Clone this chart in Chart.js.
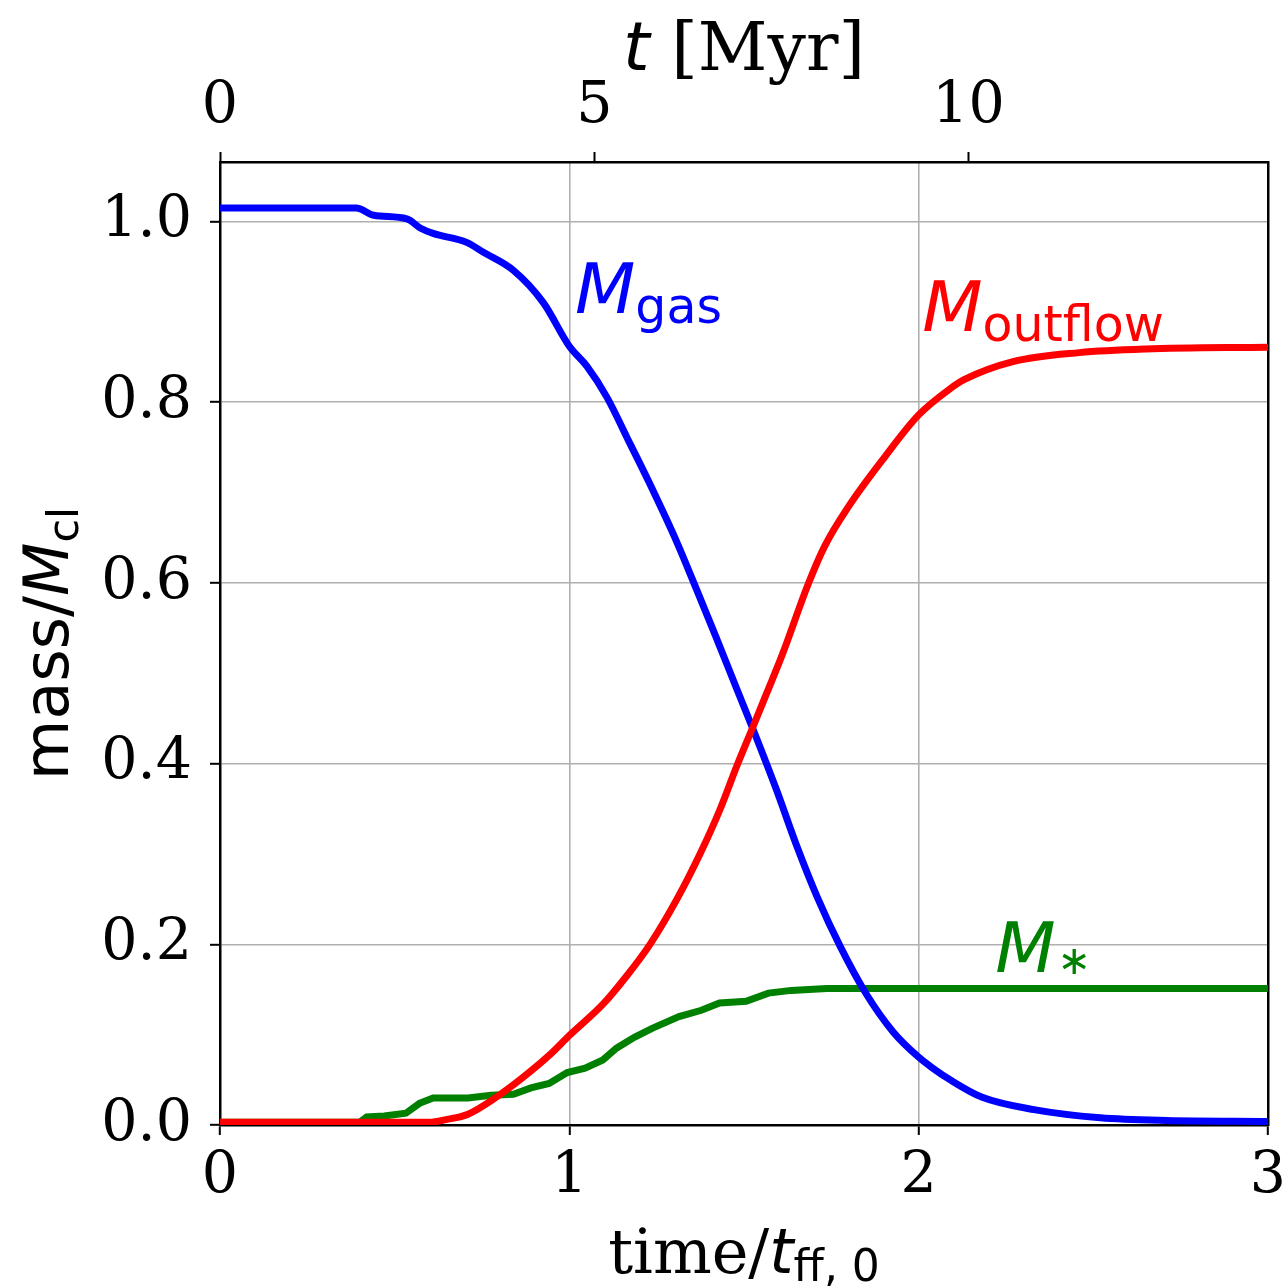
<!DOCTYPE html>
<html>
<head>
<meta charset="utf-8">
<script src="https://cdn.jsdelivr.net/npm/chart.js@4.4.1/dist/chart.umd.min.js"></script>
<style>
  html, body { margin: 0; padding: 0; background: #fff; }
  #wrap { width: 1283px; height: 1286px; }
</style>
</head>
<body>
<div id="wrap"><canvas id="massChart"></canvas></div>
<script>
// time in units of t_ff,0, mass in units of M_cl
const tGas = [0, 0.39, 0.44, 0.535, 0.573, 0.61, 0.706, 0.754, 0.84, 0.926, 1.0, 1.05, 1.107, 1.174, 1.23, 1.308, 1.365, 1.42, 1.48, 1.527, 1.594, 1.65, 1.71, 1.775, 1.85, 1.927, 2.0, 2.04, 2.09, 2.18, 2.33, 2.52, 2.71, 3.0];
const mGas = [1.015, 1.015, 1.007, 1.003, 0.993, 0.987, 0.977, 0.966, 0.946, 0.910, 0.862, 0.840, 0.806, 0.754, 0.710, 0.645, 0.592, 0.540, 0.482, 0.437, 0.370, 0.310, 0.252, 0.198, 0.145, 0.103, 0.075, 0.063, 0.050, 0.031, 0.017, 0.008, 0.005, 0.004];

const tOut = [0, 0.6, 0.647, 0.71, 0.788, 0.865, 0.942, 1.0, 1.097, 1.16, 1.231, 1.308, 1.374, 1.431, 1.48, 1.527, 1.565, 1.61, 1.683, 1.73, 1.80, 1.90, 2.0, 2.09, 2.13, 2.27, 2.46, 2.65, 3.0];
const mOut = [0.003, 0.003, 0.006, 0.012, 0.030, 0.052, 0.077, 0.099, 0.134, 0.163, 0.200, 0.250, 0.300, 0.349, 0.398, 0.442, 0.478, 0.521, 0.598, 0.640, 0.685, 0.738, 0.786, 0.815, 0.825, 0.845, 0.855, 0.859, 0.861];

const tStar = [0, 0.40, 0.42, 0.47, 0.532, 0.571, 0.61, 0.71, 0.776, 0.84, 0.89, 0.942, 0.994, 1.045, 1.096, 1.135, 1.186, 1.237, 1.314, 1.378, 1.43, 1.506, 1.57, 1.635, 1.737, 3.0];
const mStar = [0.003, 0.003, 0.009, 0.010, 0.013, 0.024, 0.030, 0.030, 0.033, 0.034, 0.041, 0.046, 0.058, 0.063, 0.072, 0.085, 0.097, 0.107, 0.120, 0.127, 0.135, 0.137, 0.146, 0.149, 0.151, 0.151];

const xTicks = [0, 1, 2, 3];
const myrTicks = [0, 5, 10];
const yTicks = [0, 0.2, 0.4, 0.6, 0.8, 1.0];
const xMax = 3;
const myrMax = 14.0;
const yMax = 1.066;

function toPoints(xs, ys) {
    return xs.map((x, i) => ({ x: x, y: ys[i] }));
}

function drawParts(ctx, parts, x, y, align) {
    let total = 0;
    parts.forEach(p => {
        ctx.font = p.font;
        p.w = ctx.measureText(p.text).width;
        total += p.w;
    });
    let cx = align === 'center' ? x - total / 2 : x;
    parts.forEach(p => {
        ctx.font = p.font;
        ctx.fillText(p.text, cx + (p.dx || 0), y + (p.dy || 0));
        cx += p.w;
    });
}

const tickFont = { family: 'DejaVu Serif', size: 57 };

function fixedTicks(list) {
    return function(scale) {
        scale.ticks = list.map(v => ({ value: v }));
    };
}

// fixed box sizes so the plot area lands where the original one is
function fixHeight(h) {
    return function(scale) {
        scale.height = h;
        scale.paddingLeft = 0;
        scale.paddingRight = 0;
    };
}

const labelPlugin = {
    id: 'labels',
    afterDraw(chart) {
        const ctx = chart.ctx;
        const area = chart.chartArea;
        const xs = chart.scales.x;
        const ys = chart.scales.y;
        ctx.save();
        ctx.textAlign = 'left';
        ctx.textBaseline = 'alphabetic';
        ctx.fillStyle = '#000';
        const cx = (area.left + area.right) / 2;

        drawParts(ctx, [
            { text: 'time/', font: '62px "DejaVu Serif"' },
            { text: 't', font: 'italic 62px "DejaVu Sans"' },
            { text: 'ff, 0', font: '44px "DejaVu Sans"', dy: 8 }
        ], cx, 1273, 'center');

        drawParts(ctx, [
            { text: 't', font: 'italic 68px "DejaVu Sans"' },
            { text: ' [Myr]', font: '68px "DejaVu Serif"' }
        ], cx, 70, 'center');

        ctx.save();
        ctx.translate(68, (area.top + area.bottom) / 2);
        ctx.rotate(-Math.PI / 2);
        drawParts(ctx, [
            { text: 'mass/', font: '62px "DejaVu Sans"' },
            { text: 'M', font: 'italic 62px "DejaVu Sans"' },
            { text: 'cl', font: '43px "DejaVu Sans"', dy: 10 }
        ], 0, 0, 'center');
        ctx.restore();

        ctx.fillStyle = '#0000ff';
        drawParts(ctx, [
            { text: 'M', font: 'italic 70px "DejaVu Sans"' },
            { text: 'gas', font: '49px "DejaVu Sans"', dy: 10 }
        ], xs.getPixelForValue(1.016), ys.getPixelForValue(0.899), 'left');

        ctx.fillStyle = '#ff0000';
        drawParts(ctx, [
            { text: 'M', font: 'italic 70px "DejaVu Sans"' },
            { text: 'outflow', font: '49px "DejaVu Sans"', dy: 10 }
        ], xs.getPixelForValue(2.01), ys.getPixelForValue(0.879), 'left');

        ctx.fillStyle = '#008000';
        drawParts(ctx, [
            { text: 'M', font: 'italic 70px "DejaVu Sans"' },
            { text: '\u2217', font: '40px "DejaVu Sans"', dy: 2, dx: 2 }
        ], xs.getPixelForValue(2.219), ys.getPixelForValue(0.169), 'left');
        ctx.restore();
    }
};

const ctx = document.getElementById('massChart').getContext('2d');
const chart = new Chart(ctx, {
    type: 'line',
    data: {
        datasets: [{
            label: 'M_outflow',
            data: toPoints(tOut, mOut),
            borderColor: '#ff0000',
            borderWidth: 7,
            pointRadius: 0,
            cubicInterpolationMode: 'monotone'
        }, {
            label: 'M_gas',
            data: toPoints(tGas, mGas),
            borderColor: '#0000ff',
            borderWidth: 7,
            pointRadius: 0,
            cubicInterpolationMode: 'monotone'
        }, {
            label: 'M_star',
            data: toPoints(tStar, mStar),
            borderColor: '#008000',
            borderWidth: 7,
            pointRadius: 0,
            tension: 0
        }]
    },
    options: {
        responsive: true,
        maintainAspectRatio: false,
        animation: false,
        layout: { padding: 0 },
        plugins: {
            legend: { display: false },
            tooltip: { enabled: false }
        },
        scales: {
            x: {
                type: 'linear',
                position: 'bottom',
                min: 0,
                max: xMax,
                afterBuildTicks: fixedTicks(xTicks),
                afterFit: fixHeight(161),
                ticks: {
                    font: tickFont,
                    color: '#000',
                    padding: 8,
                    maxRotation: 0
                },
                grid: {
                    color: '#b0b0b0',
                    lineWidth: 1.6,
                    tickColor: '#000',
                    tickWidth: 2,
                    tickLength: 10
                },
                border: { color: '#000', width: 2.5 }
            },
            x2: {
                type: 'linear',
                position: 'top',
                min: 0,
                max: myrMax,
                afterBuildTicks: fixedTicks(myrTicks),
                afterFit: fixHeight(162),
                ticks: {
                    font: tickFont,
                    color: '#000',
                    padding: 11,
                    maxRotation: 0
                },
                grid: {
                    drawOnChartArea: false,
                    tickColor: '#000',
                    tickWidth: 2,
                    tickLength: 10
                },
                border: { color: '#000', width: 2.5 }
            },
            y: {
                type: 'linear',
                position: 'left',
                min: 0,
                max: yMax,
                afterBuildTicks: fixedTicks(yTicks),
                afterFit(scale) { scale.width = 220; },
                ticks: {
                    font: tickFont,
                    color: '#000',
                    padding: 18,
                    callback: v => v.toFixed(1)
                },
                grid: {
                    color: '#b0b0b0',
                    lineWidth: 1.6,
                    tickColor: '#000',
                    tickWidth: 2,
                    tickLength: 10
                },
                border: { color: '#000', width: 2.5 }
            },
            y2: {
                type: 'linear',
                position: 'right',
                min: 0,
                max: yMax,
                afterFit(scale) { scale.width = 15; },
                ticks: { display: false },
                grid: { drawOnChartArea: false, drawTicks: false },
                border: { color: '#000', width: 2.5 }
            }
        }
    },
    plugins: [labelPlugin]
});
</script>
</body>
</html>
